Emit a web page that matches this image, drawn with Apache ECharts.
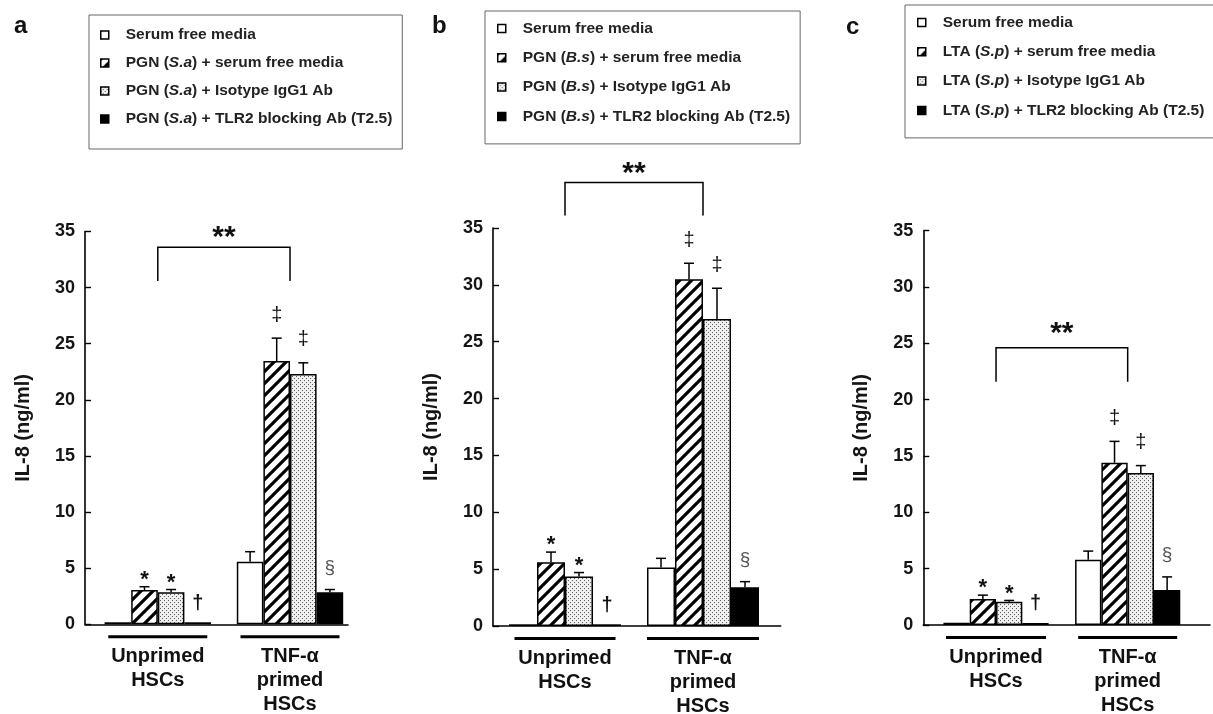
<!DOCTYPE html>
<html><head><meta charset="utf-8">
<script src="https://cdn.jsdelivr.net/npm/echarts@6/dist/echarts.min.js"></script>
<style>html,body{margin:0;padding:0;background:#fff}#c{width:1213px;height:714px}</style>
</head><body><div id="c"></div>
<script>
// ---------- DATA ----------
const categories = ['Unprimed\nHSCs', 'TNF-α\nprimed\nHSCs'];
const yMin = 0, yMax = 35, yInterval = 5;
const yTitle = 'IL-8 (ng/ml)';
const panelLetters = ['a', 'b', 'c'];

// Panel a : PGN (S.a)
const a_names = ['Serum free media', 'PGN (S.a) + serum free media', 'PGN (S.a) + Isotype IgG1 Ab', 'PGN (S.a) + TLR2 blocking Ab (T2.5)'];
const a_serum = [0.18, 5.57], a_serumSem = [0, 0.9];
const a_pgn   = [3.05, 23.45], a_pgnSem  = [0.3, 2.05];
const a_iso   = [2.85, 22.3],  a_isoSem  = [0.25, 1.0];
const a_tlr2  = [0.18, 2.85],  a_tlr2Sem = [0, 0.25];
const a_notes = [['', ''], ['*', '‡'], ['*', '‡'], ['†', '§']];
const a_bracket = [30.6, 33.6];

// Panel b : PGN (B.s)
const b_names = ['Serum free media', 'PGN (B.s) + serum free media', 'PGN (B.s) + Isotype IgG1 Ab', 'PGN (B.s) + TLR2 blocking Ab (T2.5)'];
const b_serum = [0.15, 5.15], b_serumSem = [0, 0.8];
const b_pgn   = [5.6, 30.5], b_pgnSem  = [0.9, 1.4];
const b_iso   = [4.35, 27.0], b_isoSem = [0.35, 2.7];
const b_tlr2  = [0.15, 3.4],  b_tlr2Sem = [0, 0.5];
const b_notes = [['', ''], ['*', '‡'], ['*', '‡'], ['†', '§']];
const b_bracket = [36.1, 39.0];

// Panel c : LTA (S.p)
const c_names = ['Serum free media', 'LTA (S.p) + serum free media', 'LTA (S.p) + Isotype IgG1 Ab', 'LTA (S.p) + TLR2 blocking Ab (T2.5)'];
const c_serum = [0.2, 5.8],  c_serumSem = [0, 0.76];
const c_pgn   = [2.3, 14.4], c_pgnSem  = [0.35, 1.9];
const c_iso   = [2.06, 13.5], c_isoSem = [0.12, 0.65];
const c_tlr2  = [0.18, 3.1], c_tlr2Sem = [0, 1.17];
const c_notes = [['', ''], ['*', '‡'], ['*', '‡'], ['†', '§']];
const c_bracket = [21.6, 24.6];

const panelsData = [
  {names: a_names, means: [a_serum, a_pgn, a_iso, a_tlr2], sems: [a_serumSem, a_pgnSem, a_isoSem, a_tlr2Sem], notes: a_notes, bracket: a_bracket},
  {names: b_names, means: [b_serum, b_pgn, b_iso, b_tlr2], sems: [b_serumSem, b_pgnSem, b_isoSem, b_tlr2Sem], notes: b_notes, bracket: b_bracket},
  {names: c_names, means: [c_serum, c_pgn, c_iso, c_tlr2], sems: [c_serumSem, c_pgnSem, c_isoSem, c_tlr2Sem], notes: c_notes, bracket: c_bracket}
];

// ---------- LAYOUT / STYLE ----------
const W = 1213, H = 714;
const layout = [
  {frame: {l: 85, r: 348, t: 231.5, b: 624.3}, bars: {l: 91.7, r: 356.1}, barW: 26.6, under: [99, 99], starGap: 9,
   legend: {left: 89, top: 15, padding: [12, 10, 22, 11], gap: 12}, letter: {left: 14, top: 14}},
  {frame: {l: 493, r: 780.7, t: 228, b: 626}, bars: {l: 496, r: 772}, barW: 28, under: [101, 112], starGap: 9,
   legend: {left: 485, top: 11, padding: [9.5, 10, 19.5, 12], gap: 13.3}, letter: {left: 432, top: 14}},
  {frame: {l: 923.3, r: 1210, t: 230.7, b: 625}, bars: {l: 930.2, r: 1193.5}, barW: 26.3, under: [100, 99], starGap: 14,
   legend: {left: 905, top: 5, padding: [9.5, 10, 19.5, 12], gap: 13.3}, letter: {left: 846, top: 15}}
];
const FONT = '"Liberation Sans", Arial, sans-serif';
const noteStyle = {
  '*': {size: 22, weight: 'bold', color: '#111', gap: 7},
  '‡': {size: 20, weight: 'normal', color: '#111', gap: 23},
  '§': {size: 19, weight: 'normal', color: '#555', gap: 22},
  '†': {size: 20, weight: 'bold', color: '#111', gap: 19}
};

function makeHatch() {
  const c = document.createElement('canvas'); c.width = 12; c.height = 12;
  const g = c.getContext('2d');
  g.fillStyle = '#fff'; g.fillRect(0, 0, 12, 12);
  g.strokeStyle = '#000'; g.lineWidth = 3.2;
  g.beginPath();
  g.moveTo(-2, 14); g.lineTo(14, -2);
  g.moveTo(-2, 2); g.lineTo(2, -2);
  g.moveTo(10, 14); g.lineTo(14, 10);
  g.stroke();
  return c;
}
function makeDots() {
  const c = document.createElement('canvas'); c.width = 4; c.height = 4;
  const g = c.getContext('2d');
  g.fillStyle = '#efefef'; g.fillRect(0, 0, 4, 4);
  g.fillStyle = '#5e5e5e'; g.fillRect(0, 0, 1, 1); g.fillRect(2, 2, 1, 1);
  return c;
}
const fills = ['#ffffff', {image: makeHatch(), repeat: 'repeat'}, {image: makeDots(), repeat: 'repeat'}, '#000000'];

const grid = [], xAxis = [], yAxis = [], series = [], legend = [], title = [];

layout.forEach((L, i) => {
  const P = panelsData[i];
  const fi = 2 * i, bi = 2 * i + 1;
  grid.push({left: L.frame.l, right: W - L.frame.r, top: L.frame.t, bottom: H - L.frame.b, containLabel: false, outerBoundsMode: 'none'});
  grid.push({left: L.bars.l, right: W - L.bars.r, top: L.frame.t, bottom: H - L.frame.b, containLabel: false, outerBoundsMode: 'none'});
  // frame axes
  xAxis.push({gridIndex: fi, type: 'value', min: 0, max: 1, axisLine: {show: true, onZero: false, lineStyle: {color: '#000', width: 1.6}},
    axisTick: {show: false}, axisLabel: {show: false}, splitLine: {show: false}});
  yAxis.push({gridIndex: fi, type: 'value', min: yMin, max: yMax, interval: yInterval,
    axisLine: {show: true, lineStyle: {color: '#000', width: 1.6}},
    axisTick: {show: true, inside: true, length: 6, lineStyle: {color: '#000', width: 1.4}},
    axisLabel: {margin: 10, fontSize: 18, fontWeight: 'bold', color: '#151515', fontFamily: FONT},
    splitLine: {show: false},
    name: yTitle, nameLocation: 'middle', nameGap: 52,
    nameTextStyle: {fontSize: 20, fontWeight: 'bold', color: '#151515', fontFamily: FONT}});
  // bar axes
  const rich = {
    s: {height: 6, lineHeight: 6, fontSize: 1},
    t: {fontSize: 20, fontWeight: 'bold', lineHeight: 24, color: '#111', fontFamily: FONT}
  };
  L.under.forEach((w, k) => { rich['u' + k] = {width: w, height: 3, lineHeight: 3, fontSize: 1, backgroundColor: '#000'}; });
  xAxis.push({gridIndex: bi, type: 'category', data: categories,
    axisLine: {show: false}, axisTick: {show: false}, splitLine: {show: false},
    axisLabel: {interval: 0, margin: 11, rich: rich,
      formatter: (v, idx) => '{u' + idx + '| }\n{s| }\n' + v.split('\n').map(s => '{t|' + s + '}').join('\n')}});
  yAxis.push({gridIndex: bi, type: 'value', min: yMin, max: yMax, interval: yInterval, show: false});

  // bars
  P.names.forEach((nm, k) => {
    series.push({type: 'bar', name: nm, xAxisIndex: bi, yAxisIndex: bi, barWidth: L.barW, barGap: '0%',
      data: P.means[k], itemStyle: {color: fills[k], borderColor: '#000', borderWidth: 1.5},
      emphasis: {disabled: true}, silent: true, z: 2});
  });
  // error bars + significance marks
  const items = [];
  P.means.forEach((arr, k) => arr.forEach((m, c) => items.push({c, k, mean: m, top: m + P.sems[k][c], note: P.notes[k][c]})));
  series.push({type: 'custom', xAxisIndex: bi, yAxisIndex: bi, z: 5, silent: true,
    data: items.map(it => [it.c, it.top]),
    renderItem: (params, api) => {
      const it = items[params.dataIndex];
      const base = api.coord([it.c, it.mean]);
      const tp = api.coord([it.c, it.top]);
      const x = base[0] + (it.k - 1.5) * L.barW;
      const ch = [];
      if (it.top > it.mean + 1e-6) {
        ch.push({type: 'line', shape: {x1: x, y1: base[1], x2: x, y2: tp[1]}, style: {stroke: '#000', lineWidth: 1.5}});
        ch.push({type: 'line', shape: {x1: x - 5, y1: tp[1], x2: x + 5, y2: tp[1]}, style: {stroke: '#000', lineWidth: 1.5}});
      }
      if (it.note) {
        const ns = noteStyle[it.note];
        ch.push({type: 'text', style: {text: it.note, x: x, y: tp[1] - ns.gap, align: 'center', verticalAlign: 'middle',
          fontSize: ns.size, fontWeight: ns.weight, fontFamily: FONT, fill: ns.color}});
      }
      return {type: 'group', children: ch};
    }});
  // bracket
  series.push({type: 'custom', xAxisIndex: bi, yAxisIndex: bi, z: 5, silent: true, clip: false,
    data: [[0, P.bracket[1]]],
    renderItem: (params, api) => {
      const p0 = api.coord([0, P.bracket[0]]), p1 = api.coord([0, P.bracket[1]]);
      const p2 = api.coord([1, P.bracket[1]]), p3 = api.coord([1, P.bracket[0]]);
      return {type: 'group', children: [
        {type: 'polyline', shape: {points: [p0, p1, p2, p3]}, style: {stroke: '#000', lineWidth: 1.5, fill: 'none'}},
        {type: 'text', style: {text: '**', x: (p1[0] + p2[0]) / 2, y: p1[1] - L.starGap, align: 'center', verticalAlign: 'middle',
          fontSize: 30, fontWeight: 'bold', fontFamily: FONT, fill: '#111'}}
      ]};
    }});

  legend.push({data: P.names, orient: 'vertical', left: L.legend.left, top: L.legend.top, padding: L.legend.padding,
    itemGap: L.legend.gap, itemWidth: 8, itemHeight: 8, icon: 'rect', selectedMode: false,
    borderColor: '#666', borderWidth: 1, backgroundColor: '#fff',
    itemStyle: {borderColor: '#000', borderWidth: 1.5},
    formatter: name => {
      const m = name.match(/^(.*\()([A-Z]\.[a-z])(\).*)$/);
      return m ? '{g| }{n|' + m[1] + '}{i|' + m[2] + '}{n|' + m[3] + '}' : '{g| }{n|' + name + '}';
    },
    textStyle: {fontFamily: FONT, rich: {
      g: {width: 12, fontSize: 15.5},
      n: {fontSize: 15.5, fontWeight: 'bold', color: '#222', lineHeight: 17, fontFamily: FONT},
      i: {fontSize: 15.5, fontWeight: 'bold', fontStyle: 'italic', color: '#222', lineHeight: 17, fontFamily: FONT}
    }}});
  title.push({text: panelLetters[i], left: L.letter.left, top: L.letter.top, padding: 0,
    textStyle: {fontSize: 24, fontWeight: 'bold', color: '#111', fontFamily: FONT}});
});

const chart = echarts.init(document.getElementById('c'), null, {renderer: 'canvas'});
chart.setOption({animation: false, backgroundColor: '#fff', title, legend, grid, xAxis, yAxis, series, tooltip: {show: false}});
</script></body></html>
